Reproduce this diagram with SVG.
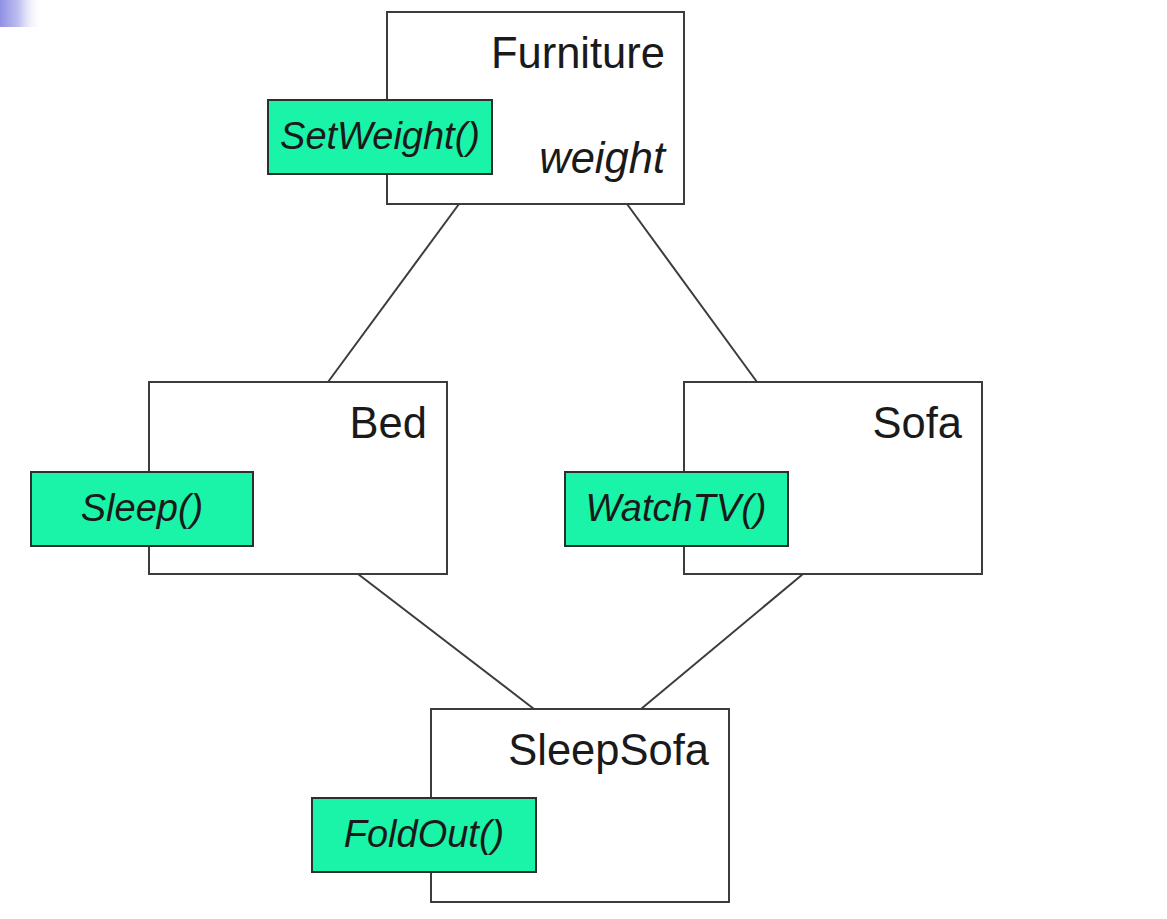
<svg xmlns="http://www.w3.org/2000/svg" width="1167" height="919" viewBox="0 0 1167 919">
  <defs>
    <linearGradient id="corner" x1="0" y1="0" x2="1" y2="0">
      <stop offset="0" stop-color="#9090e4"/>
      <stop offset="0.45" stop-color="#c0c0f2"/>
      <stop offset="1" stop-color="#ffffff" stop-opacity="0"/>
    </linearGradient>
  </defs>
  <style>
    .cls { fill: #ffffff; stroke: #3c3c3c; stroke-width: 2; }
    .meth { fill: #19f4a8; stroke: #2e2e2e; stroke-width: 2; }
    .title { font-family: "Liberation Sans", Arial, sans-serif; font-size: 43.5px; fill: #1a1a1a; text-anchor: end; }
    .attr { font-family: "Liberation Sans", Arial, sans-serif; font-size: 43.5px; font-style: italic; fill: #1a1a1a; text-anchor: end; }
    .mtxt { font-family: "Liberation Sans", Arial, sans-serif; font-size: 38px; font-style: italic; fill: #1a1a1a; text-anchor: middle; }
    .conn line { stroke: #3c3c3c; stroke-width: 2; }
  </style>
  <rect width="1167" height="919" fill="#ffffff"/>
  <rect x="0" y="0" width="42" height="27" fill="url(#corner)"/>

  <g id="connectors" class="conn">
    <line x1="459" y1="204" x2="328" y2="382"/>
    <line x1="627" y1="204" x2="757" y2="382"/>
    <line x1="358" y1="574" x2="534" y2="709"/>
    <line x1="803" y1="574" x2="641" y2="709"/>
  </g>

  <g id="furniture">
    <rect class="cls" x="387" y="12" width="297" height="192"/>
    <text class="title" x="665" y="68">Furniture</text>
    <text class="attr" x="665" y="173">weight</text>
    <rect class="meth" x="268" y="100" width="224" height="74"/>
    <text class="mtxt" x="380" y="149">SetWeight()</text>
  </g>

  <g id="bed">
    <rect class="cls" x="149" y="382" width="298" height="192"/>
    <text class="title" x="427" y="438">Bed</text>
    <rect class="meth" x="31" y="472" width="222" height="74"/>
    <text class="mtxt" x="142" y="521">Sleep()</text>
  </g>

  <g id="sofa">
    <rect class="cls" x="684" y="382" width="298" height="192"/>
    <text class="title" x="962" y="438">Sofa</text>
    <rect class="meth" x="565" y="472" width="223" height="74"/>
    <text class="mtxt" x="676" y="521">WatchTV()</text>
  </g>

  <g id="sleepsofa">
    <rect class="cls" x="431" y="709" width="298" height="193"/>
    <text class="title" x="709" y="765">SleepSofa</text>
    <rect class="meth" x="312" y="798" width="224" height="74"/>
    <text class="mtxt" x="424" y="847">FoldOut()</text>
  </g>
</svg>
